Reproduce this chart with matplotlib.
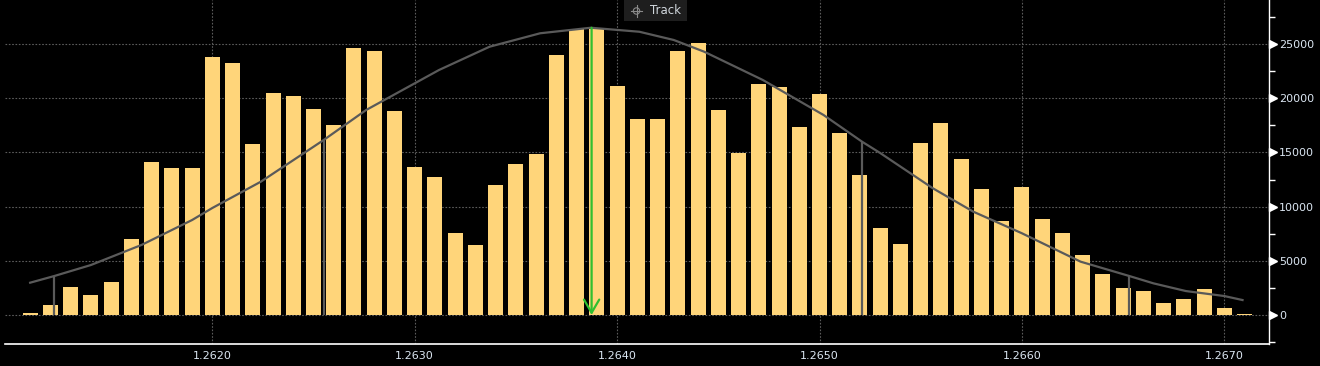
import matplotlib
matplotlib.use('Agg')
import matplotlib.pyplot as plt
import matplotlib.transforms as mtransforms
from matplotlib.patches import Rectangle, Circle

# price levels (bin centres) and volume per bin
prices = [round(1.2611 + i * 0.0001, 4) for i in range(61)]
volumes = [150, 950, 2600, 1850, 3050, 7000, 14100, 13550, 13550, 23800,
           23250, 15780, 20480, 20200, 19000, 17530, 24630, 24350, 18820, 13650,
           12730, 7560, 6460, 11990, 13930, 14850, 23990, 26380, 26380, 21130,
           18080, 18080, 24350, 25090, 18910, 14950, 21310, 21030, 17340, 20390,
           16790, 12920, 8030, 6550, 15870, 17710, 14390, 11620, 8670, 11810,
           8860, 7560, 5540, 3780, 2490, 2210, 1110, 1480, 2400, 650, 100]

# fitted distribution curve
curve_x = [1.26110, 1.26122, 1.26140, 1.26165, 1.26190, 1.26200, 1.26224, 1.26255,
           1.26276, 1.26300, 1.26312, 1.26337, 1.26362, 1.26387, 1.26411, 1.26428,
           1.26443, 1.26472, 1.26502, 1.26521, 1.26530, 1.26556, 1.26576, 1.26600,
           1.26629, 1.26653, 1.26665, 1.26681, 1.26700, 1.26709]
curve_y = [2980, 3600, 4610, 6460, 8760, 9870, 12300, 16140,
           18910, 21370, 22600, 24750, 25990, 26500, 26130, 25370,
           24290, 21680, 18450, 15990, 14940, 11690, 9530, 7540,
           4920, 3600, 2920, 2210, 1750, 1380]

# vertical markers (sigma levels) and current price
sigma_x = [1.26122, 1.26255, 1.26521, 1.26653]
sigma_y = [3600, 16140, 15990, 3600]
last_price = 1.263874
last_top = 26500

xticks = [1.2620, 1.2630, 1.2640, 1.2650, 1.2660, 1.2670]
xlabels = ['1.2620', '1.2630', '1.2640', '1.2650', '1.2660', '1.2670']
yticks = [0, 5000, 10000, 15000, 20000, 25000]
yminor = [-2500, 2500, 7500, 12500, 17500, 22500, 27500]

W, H = 1320, 366
fig = plt.figure(figsize=(W / 100, H / 100), dpi=100, facecolor='black')
ax = fig.add_axes([5 / W, 22 / H, 1264.3 / W, 344 / H], facecolor='black')

ax.set_xlim(1.2609758, 1.2672223)
ax.set_ylim(-2675, 29059)

txt_col = '#dbe6f2'
grid_col = '#5c5c5c'

# grid
for gx in xticks:
    ax.axvline(gx, color=grid_col, lw=0.8, ls=(0, (1.5, 1.5)), zorder=0)
for gy in yticks:
    ax.axhline(gy, color=grid_col, lw=0.8, ls=(0, (1.5, 1.5)), zorder=0)

ax.bar(prices, volumes, width=0.000074, color='#ffd57a', zorder=2)

ax.plot(curve_x, curve_y, color='#5a5a5a', lw=1.6, zorder=3)
ax.vlines(sigma_x, 0, sigma_y, color='#5a5a5a', lw=1.6, zorder=3)

ax.annotate('', xy=(last_price, 0), xytext=(last_price, last_top),
            arrowprops=dict(arrowstyle='->,head_length=0.95,head_width=0.55',
                            color='#2fbf2f', lw=1.6, shrinkA=0, shrinkB=0),
            zorder=4)

# spines
for s in ['left', 'top']:
    ax.spines[s].set_visible(False)
ax.spines['right'].set_color('white')
ax.spines['bottom'].set_color('white')
ax.spines['right'].set_linewidth(1)
ax.spines['bottom'].set_linewidth(1.2)

ax.set_xticks(xticks)
ax.set_xticklabels(xlabels)
ax.tick_params(axis='x', length=0, pad=5, labelsize=8, labelcolor=txt_col)

ax.yaxis.tick_right()
ax.set_yticks(yticks)
ax.set_yticklabels([str(v) for v in yticks])
ax.set_yticks(yminor, minor=True)
ax.tick_params(axis='y', which='major', length=0, pad=7, labelsize=8, labelcolor=txt_col)
ax.tick_params(axis='y', which='minor', length=4, width=1, color='white', direction='out')

# triangle markers on the right axis
tri_trans = mtransforms.offset_copy(ax.get_yaxis_transform(), fig=fig, x=4, y=0, units='dots')
ax.plot([1] * len(yticks), yticks, ls='none', marker='>', markersize=6,
        color='white', transform=tri_trans, clip_on=False, zorder=5)

# "Track" button
btn = Rectangle((624 / W, 1 - 21 / H), 63 / W, 21 / H, transform=fig.transFigure,
                facecolor='#1e1e1e', edgecolor='none', zorder=10)
fig.patches.append(btn)
cx, cy = 636.5 / W, 1 - 11 / H
fig.patches.append(Circle((cx * W, cy * H), 3.2, transform=None, fill=False,
                          edgecolor='#8a8a8a', lw=0.8, zorder=11))
fig.lines.append(plt.Line2D([cx - 6 / W, cx + 6 / W], [cy, cy], transform=fig.transFigure,
                            color='#8a8a8a', lw=0.8, zorder=11))
fig.lines.append(plt.Line2D([cx, cx], [cy - 6 / H, cy + 6 / H], transform=fig.transFigure,
                            color='#8a8a8a', lw=0.8, zorder=11))
fig.text(650 / W, cy, 'Track', color='#d0d6dc', fontsize=8.5, ha='left', va='center', zorder=12)

fig.savefig('out.png', dpi=100, facecolor='black')
